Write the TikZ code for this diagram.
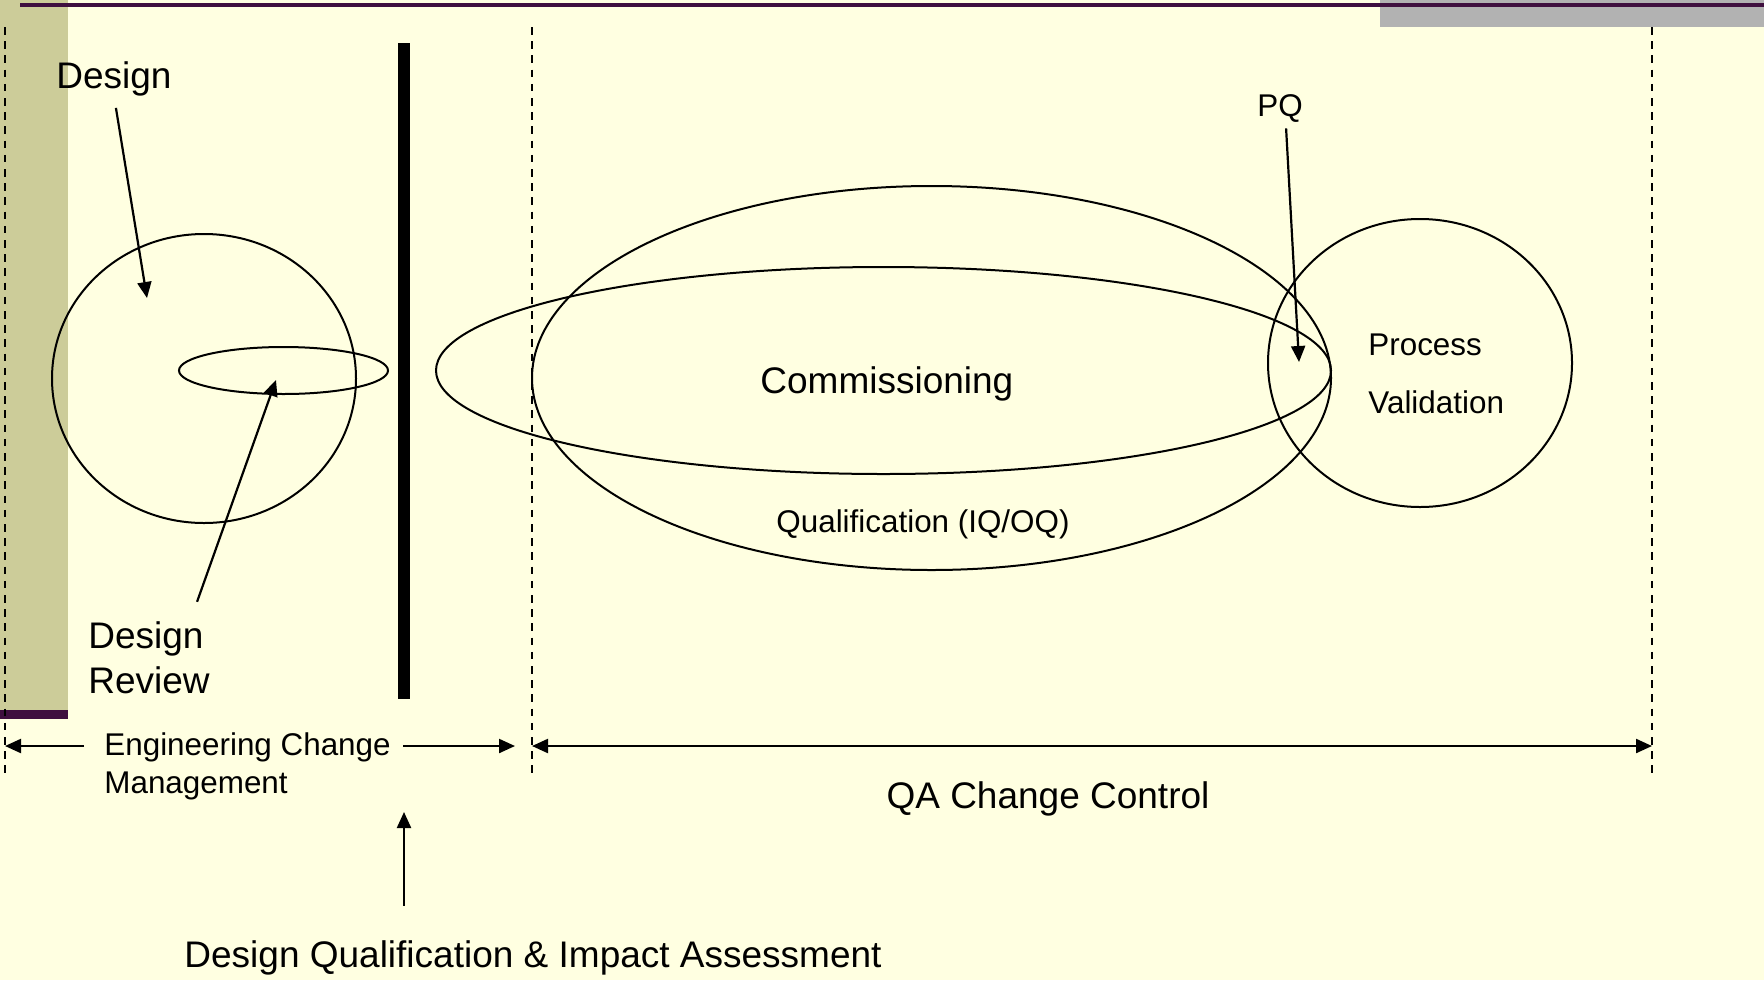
\documentclass[tikz,border=0pt]{standalone}
\usepackage{fontspec}
\setmainfont{Liberation Sans}
\usetikzlibrary{shapes.geometric,arrows.meta,positioning}
\definecolor{paper}{HTML}{FFFFE1}
\definecolor{khaki}{HTML}{CCCC99}
\definecolor{plum}{HTML}{3F0F3F}
\definecolor{greybar}{HTML}{B2B2B2}
\begin{document}
\begin{tikzpicture}[x=0.5pt,y=-0.5pt]
    \tikzset{ell/.style={draw,ellipse,inner sep=0pt,line width=1pt},
    big/.style={font=\fontsize{18.5}{22.5}\selectfont,inner sep=0pt},
    med/.style={font=\fontsize{15.7}{19}\selectfont,inner sep=0pt},
    arr/.style={->,>={Triangle[length=8pt,width=7pt]},line width=1.1pt},
    dsh/.style={dash pattern=on 3.8pt off 3.3pt,line width=1pt}}
    % slide background
    \useasboundingbox (0,0) rectangle (1764,980);
    \fill[paper] (0,0) rectangle (1764,980);
    \fill[khaki] (0,0) rectangle (68,710);
    \fill[plum] (0,710) rectangle (68,719);
    \fill[greybar] (1380,0) rectangle (1764,27);
    \fill[plum] (20,3) rectangle (1764,7);
    % phase borders
    \draw[dsh] (4.5,27) -- (4.5,777);
    \draw[dsh] (532,27) -- (532,777);
    \draw[dsh] (1652,27) -- (1652,777);
    \node[fill,inner sep=0pt,minimum width=5.8pt,minimum height=328pt] (gate) at (404,371) {};

    \node[ell,minimum width=152pt,minimum height=144.5pt] (dc) at (204,378.5) {};%design
    \node[ell,minimum width=104.5pt,minimum height=23.5pt] (dr) at (283.5,370.5) {};%review
    \node[ell,minimum width=399.5pt,minimum height=192pt] (qual) at (931.5,378) {};
    \node[ell,minimum width=447.5pt,minimum height=103.5pt] (comm) at (883.5,370.5) {};
    \node[ell,minimum width=152pt,minimum height=144pt] (pv) at (1420,363) {};

    % base of a two-line label sits on its last line
    \node[big,anchor=base west] (design) at (56,88) {Design};
    \node[big,anchor=base west,align=left] (drev) at (88,693) {Design\\Review};
    \node[big,anchor=base west] (commlbl) at (760,393) {Commissioning};
    \node[med,anchor=base west] (quallbl) at (776,532) {Qualification (IQ/OQ)};
    \node[med,anchor=base west] (pq) at (1257,116) {PQ};
    \node[med,anchor=base west,align=left] (pvlbl) at (1368,413) {Process\\[10pt]Validation};
    \node[med,anchor=base west,align=left] (ecm) at (104,793) {Engineering Change\\Management};
    \node[big,anchor=base] (qa) at (1048,808) {QA Change Control};
    \node[big,anchor=base] (dq) at (533,967) {Design Qualification \& Impact Assessment};

    \coordinate (dtip) at (147,298);
    \coordinate (rtip) at (276,380);
    \coordinate (pqtip) at (1299,362);
    \coordinate (ecml) at (5,746);
    \coordinate (ecmr) at (515,746);
    \coordinate (qal) at (532,746);
    \coordinate (qar) at (1652,746);
    \coordinate (dqtip) at (404,812);

    \draw[arr,shorten <=6pt] (design.south) -- (dtip);
    \draw[arr] ([xshift=24pt,yshift=9.5pt]drev.north) -- (rtip);
    \draw[arr] ([xshift=3pt,yshift=-3pt]pq.south) -- (pqtip);
    \draw[arr] (ecm.west |- ecml) ++(-10pt,0) -- (ecml);
    \draw[arr] (ecm.east |- ecmr) ++(6pt,0) -- (ecmr);
    \draw[arr,<->] (qal) -- (qar);
    \draw[arr] (dq.north -| gate.south) ++(0,17pt) -- (dqtip);
\end{tikzpicture}
\end{document}
